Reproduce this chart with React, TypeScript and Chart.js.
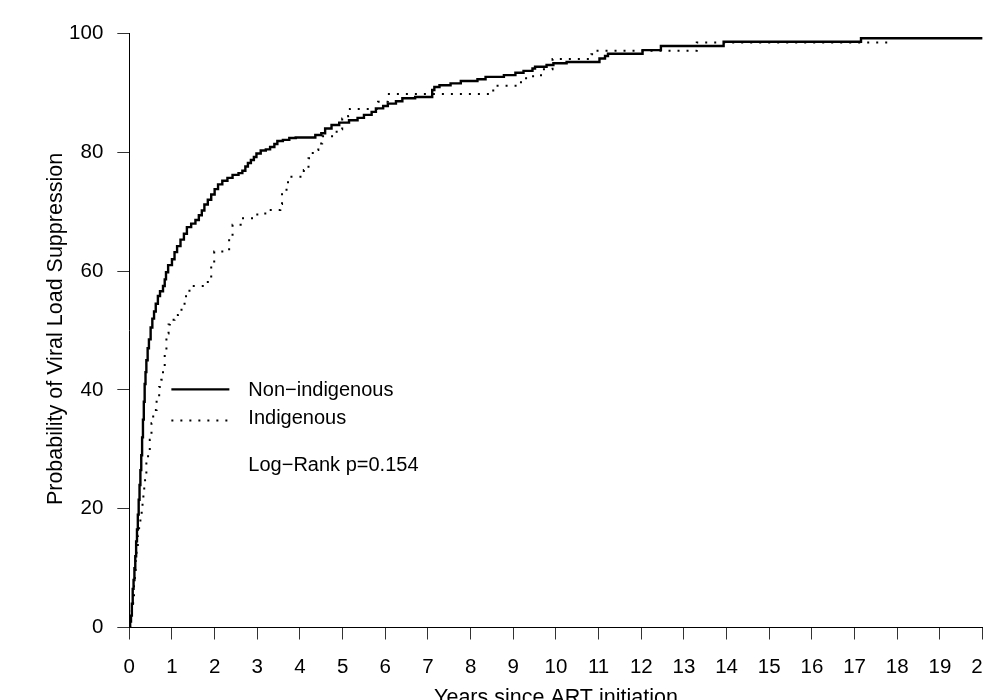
import { useEffect, useRef } from "react";
import { Chart, registerables } from "chart.js";

Chart.register(...registerables);

// ---- Data ----
const nonIndigenousTimes = [
  0, 0.02, 0.04, 0.06, 0.08, 0.1, 0.12, 0.14, 0.16, 0.18,
  0.2, 0.22, 0.24, 0.26, 0.28, 0.3, 0.32, 0.34, 0.36, 0.38,
  0.4, 0.43, 0.46, 0.5, 0.54, 0.58, 0.62, 0.67, 0.72, 0.79,
  0.83, 0.86, 0.91, 1.0, 1.06, 1.12, 1.2, 1.28, 1.35, 1.45,
  1.55, 1.63, 1.7, 1.76, 1.84, 1.92, 2.0, 2.08, 2.18, 2.3,
  2.42, 2.56, 2.65, 2.72, 2.78, 2.85, 2.92, 2.98, 3.08, 3.2,
  3.3, 3.4, 3.47, 3.6, 3.75, 3.9, 4.36, 4.5, 4.59, 4.74,
  4.92, 5.15, 5.35, 5.5, 5.68, 5.78, 5.95, 6.06, 6.25, 6.4,
  6.7, 7.1, 7.15, 7.27, 7.53, 7.77, 8.16, 8.35, 8.78, 9.05,
  9.24, 9.45, 9.51, 9.78, 9.94, 10.25, 11.02, 11.15, 11.22, 12.03,
  12.46, 13.93, 17.15, 20,
];
const nonIndigenousValues = [
  0, 1, 2, 4, 6.5, 8, 10, 12, 14.5, 16.5,
  19, 21.5, 24, 26.5, 29, 32, 35, 38, 41, 43,
  45, 47, 48.5, 50.5, 52, 53.2, 54.5, 55.8, 56.6, 57.5,
  58.6, 59.8, 61, 62, 63.2, 64.2, 65.3, 66.3, 67.4, 68.0,
  68.6, 69.4, 70.2, 71.2, 72.0, 72.9, 73.8, 74.6, 75.2, 75.7,
  76.2, 76.5, 76.9, 77.6, 78.2, 78.7, 79.2, 79.8, 80.3, 80.5,
  80.9, 81.4, 81.9, 82.1, 82.4, 82.5, 82.9, 83.2, 84.0, 84.6,
  85.0, 85.4, 85.8, 86.3, 86.8, 87.4, 87.8, 88.2, 88.6, 89.1,
  89.3, 90.5, 91.0, 91.3, 91.6, 92.0, 92.3, 92.7, 93.0, 93.4,
  93.7, 94.1, 94.4, 94.7, 95.0, 95.2, 95.8, 96.2, 96.6, 97.2,
  97.9, 98.6, 99.2, 99.2,
];

const indigenousTimes = [
  0, 0.03, 0.06, 0.09, 0.11, 0.13, 0.15, 0.17, 0.2, 0.23,
  0.26, 0.29, 0.31, 0.33, 0.35, 0.37, 0.4, 0.44, 0.48, 0.52,
  0.56, 0.64, 0.7, 0.75, 0.79, 0.83, 0.87, 0.92, 0.95, 1.06,
  1.14, 1.26, 1.33, 1.41, 1.84, 1.92, 1.99, 2.34, 2.42, 2.61,
  3.0, 3.27, 3.54, 3.58, 3.72, 4.09, 4.2, 4.3, 4.43, 4.52,
  4.86, 4.99, 5.13, 5.17, 5.83, 6.06, 8.53, 9.18, 9.3, 9.65,
  9.92, 10.83, 10.95, 13.3, 17.83,
];
const indigenousValues = [
  0, 1.5, 3, 4.6, 7, 9, 11.5, 13.6, 15.5, 17,
  18.5, 19.8, 21.2, 22.6, 23.7, 24.8, 27.6, 29.5, 31.6, 34.4,
  36.6, 38.3, 40.5, 41.7, 43.9, 46.7, 49.5, 51.0, 51.8, 52.6,
  53.5, 54.5, 56.3, 57.5, 58.8, 61.0, 63.3, 65.5, 67.8, 68.9,
  69.7, 70.3, 71.3, 73.7, 75.9, 77.0, 79.0, 80.4, 81.5, 82.7,
  83.9, 85.7, 86.1, 87.3, 88.5, 89.8, 91.2, 92.2, 92.8, 94.0,
  95.7, 96.5, 97.1, 98.5, 98.5,
];

const xTickValues = [0, 1, 2, 3, 4, 5, 6, 7, 8, 9, 10, 11, 12, 13, 14, 15, 16, 17, 18, 19, 20];
const yTickValues = [0, 20, 40, 60, 80, 100];
const seriesLabels = ["Non\u2212indigenous", "Indigenous"];
const annotationText = "Log\u2212Rank p=0.154";
const xTitle = "Years since ART initiation";
const yTitle = "Probability of Viral Load Suppression";

// ---- Layout constants ----
const CANVAS_W = 1010;
const CANVAS_H = 720;
const AREA_LEFT = 129.3;
const AREA_RIGHT = 989.3;
const AREA_TOP = 33.5;
const AREA_BOTTOM = 627.5;
const FONT = '"Liberation Sans", Arial, Helvetica, sans-serif';

const overlayPlugin = {
  id: "overlay",
  afterDraw(chart: any) {
    const { ctx, chartArea, scales } = chart;
    const xs = scales.x;
    const ys = scales.y;
    ctx.save();
    ctx.fillStyle = "#000";
    ctx.strokeStyle = "#000";

    // axis titles
    ctx.font = `21.5px ${FONT}`;
    ctx.textAlign = "center";
    ctx.textBaseline = "alphabetic";
    ctx.fillText(xTitle, (chartArea.left + chartArea.right) / 2, chartArea.bottom + 76);

    ctx.save();
    ctx.translate(chartArea.left - 67.2, (chartArea.top + chartArea.bottom) / 2 - 1.5);
    ctx.rotate(-Math.PI / 2);
    ctx.fillText(yTitle, 0, 0);
    ctx.restore();

    // legend
    ctx.font = `20px ${FONT}`;
    const x0 = xs.getPixelForValue(1) - 0.6;
    const anchorY = ys.getPixelForValue(40);
    ctx.textAlign = "left";

    ctx.lineWidth = 2.3;
    ctx.setLineDash([]);
    ctx.beginPath();
    ctx.moveTo(x0, anchorY - 0.5);
    ctx.lineTo(x0 + 58, anchorY - 0.5);
    ctx.stroke();
    ctx.fillText(seriesLabels[0], x0 + 77, anchorY + 6.3);

    ctx.lineWidth = 2;
    ctx.setLineDash([2, 7]);
    ctx.beginPath();
    ctx.moveTo(x0, anchorY + 30.5);
    ctx.lineTo(x0 + 57, anchorY + 30.5);
    ctx.stroke();
    ctx.setLineDash([]);
    ctx.fillText(seriesLabels[1], x0 + 77, anchorY + 33.9);

    ctx.fillText(annotationText, x0 + 77, anchorY + 80.6);
    ctx.restore();
  },
};

function toPoints(times: number[], values: number[]) {
  return times.map((t, i) => ({ x: t, y: values[i] }));
}

export default function App() {
  const canvasRef = useRef<HTMLCanvasElement | null>(null);

  useEffect(() => {
    const canvas = canvasRef.current;
    if (!canvas) return;
    const chart = new Chart(canvas, {
      type: "line",
      data: {
        datasets: [
          {
            label: seriesLabels[0],
            data: toPoints(nonIndigenousTimes, nonIndigenousValues),
            borderColor: "#000",
            borderWidth: 2.4,
            stepped: true,
            pointRadius: 0,
            fill: false,
          },
          {
            label: seriesLabels[1],
            data: toPoints(indigenousTimes, indigenousValues),
            borderColor: "#000",
            borderWidth: 2,
            borderDash: [2, 7],
            stepped: true,
            pointRadius: 0,
            fill: false,
          },
        ],
      },
      options: {
        responsive: false,
        animation: false,
        devicePixelRatio: 1,
        layout: {
          padding: { left: 0, top: AREA_TOP, right: CANVAS_W - AREA_RIGHT, bottom: 0 },
        },
        plugins: {
          legend: { display: false },
          tooltip: { enabled: false },
          title: { display: false },
        },
        scales: {
          x: {
            type: "linear",
            min: 0,
            max: 20,
            afterBuildTicks: (scale: any) => {
              scale.ticks = xTickValues.map((v) => ({ value: v }));
            },
            afterFit: (scale: any) => {
              scale.height = CANVAS_H - AREA_BOTTOM;
            },
            ticks: {
              autoSkip: false,
              maxRotation: 0,
              minRotation: 0,
              padding: 16,
              color: "#000",
              font: { family: FONT, size: 20.5 },
            },
            grid: {
              display: true,
              drawOnChartArea: false,
              drawTicks: true,
              tickLength: 12,
              color: "#333",
              lineWidth: 1,
            },
            border: { display: true, color: "#000", width: 1 },
          },
          y: {
            type: "linear",
            min: 0,
            max: 100,
            afterBuildTicks: (scale: any) => {
              scale.ticks = yTickValues.map((v) => ({ value: v }));
            },
            afterFit: (scale: any) => {
              scale.width = AREA_LEFT;
            },
            ticks: {
              padding: 14,
              color: "#000",
              font: { family: FONT, size: 20.5 },
            },
            grid: {
              display: true,
              drawOnChartArea: false,
              drawTicks: true,
              tickLength: 12,
              color: "#333",
              lineWidth: 1,
            },
            border: { display: true, color: "#000", width: 1 },
          },
        },
      },
      plugins: [overlayPlugin],
    } as any);
    return () => chart.destroy();
  }, []);

  return (
    <div
      style={{
        position: "absolute",
        left: 0,
        top: 0,
        width: 983,
        height: 700,
        overflow: "hidden",
        background: "#fff",
      }}
    >
      <canvas
        ref={canvasRef}
        width={CANVAS_W}
        height={CANVAS_H}
        style={{ display: "block", width: CANVAS_W, height: CANVAS_H }}
      />
    </div>
  );
}
